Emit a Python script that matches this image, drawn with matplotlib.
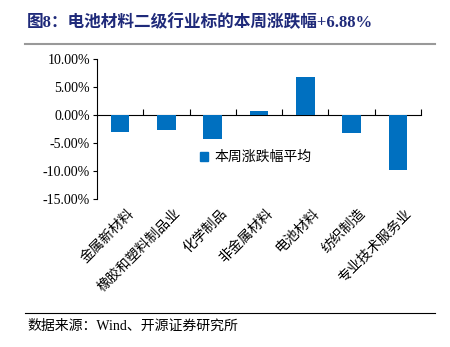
#Load libraries ---------------------------------------------------------------
import matplotlib
matplotlib.use("Agg")
import matplotlib.pyplot as plt
import matplotlib.transforms as mtransforms
from matplotlib.patches import Patch

plt.rcParams['font.family'] = ['Liberation Serif', 'Noto Sans CJK SC', 'DejaVu Sans']
plt.rcParams['axes.unicode_minus'] = False

#Data -------------------------------------------------------------------------
categories = ['金属新材料', '橡胶和塑料制品业', '化学制品', '非金属材料',
              '电池材料', '纺织制造', '专业技术服务业']
weekly_change = [-3.0, -2.7, -4.15, 0.77, 6.88, -3.1, -9.8]
yticks = [10, 5, 0, -5, -10, -15]
title = '图8：电池材料二级行业标的本周涨跌幅+6.88%'
source = '数据来源：Wind、开源证券研究所'
legend_label = '本周涨跌幅平均'

bar_color = '#0070C0'
navy = '#1F2A7A'

#Figure -----------------------------------------------------------------------
fig = plt.figure(figsize=(4.5, 3.47), dpi=100)
ax = fig.add_axes([0.2156, 0.4256, 0.72, 0.4034])

x = list(range(len(categories)))
ax.bar(x, weekly_change, width=0.4, color=bar_color, zorder=3)

ax.set_xlim(-0.5, len(categories) - 0.5)
ax.set_ylim(-15, 10)
ax.set_yticks(yticks)
ax.set_yticklabels([f'{v:.2f}%' for v in yticks], fontsize=10)
ax.tick_params(axis='y', direction='out', length=3, width=0.8, pad=2)

#x axis drawn at zero with boundary ticks pointing up
for s in ['top', 'right']:
    ax.spines[s].set_visible(False)
ax.spines['bottom'].set_position(('data', 0))
ax.spines['left'].set_linewidth(0.8)
ax.spines['bottom'].set_linewidth(0.8)
ax.set_xticks([i + 0.5 for i in x])
ax.set_xticklabels([])
ax.tick_params(axis='x', direction='in', length=4, width=0.8)

#rotated category labels below the plot
trans = mtransforms.blended_transform_factory(ax.transData, ax.transAxes)
for i, lab in zip(x, categories):
    ax.text(i + 0.15, -0.05, lab, transform=trans, rotation=45,
            rotation_mode='anchor', ha='right', va='top', fontsize=10,
            family=['Noto Sans CJK SC'])

#legend
ax.legend(handles=[Patch(color=bar_color, label=legend_label)],
          loc='center', bbox_to_anchor=(0.49, 0.3), frameon=False,
          prop={'family': 'Noto Sans CJK SC', 'size': 10},
          handlelength=0.6, handleheight=0.6, handletextpad=0.5)

#title, rules and source ------------------------------------------------------
fig.text(0.06, 0.935, title, fontsize=12, fontweight='bold', color=navy,
         va='center', ha='left')
fig.add_artist(plt.Line2D([0.055, 0.967], [0.873, 0.873], color='#999999',
                          lw=1.5, transform=fig.transFigure))
fig.add_artist(plt.Line2D([0.055, 0.967], [0.098, 0.098], color='black',
                          lw=0.8, transform=fig.transFigure))
fig.text(0.06, 0.06, source, fontsize=10, va='center', ha='left')

plt.savefig('out.png', dpi=100)
